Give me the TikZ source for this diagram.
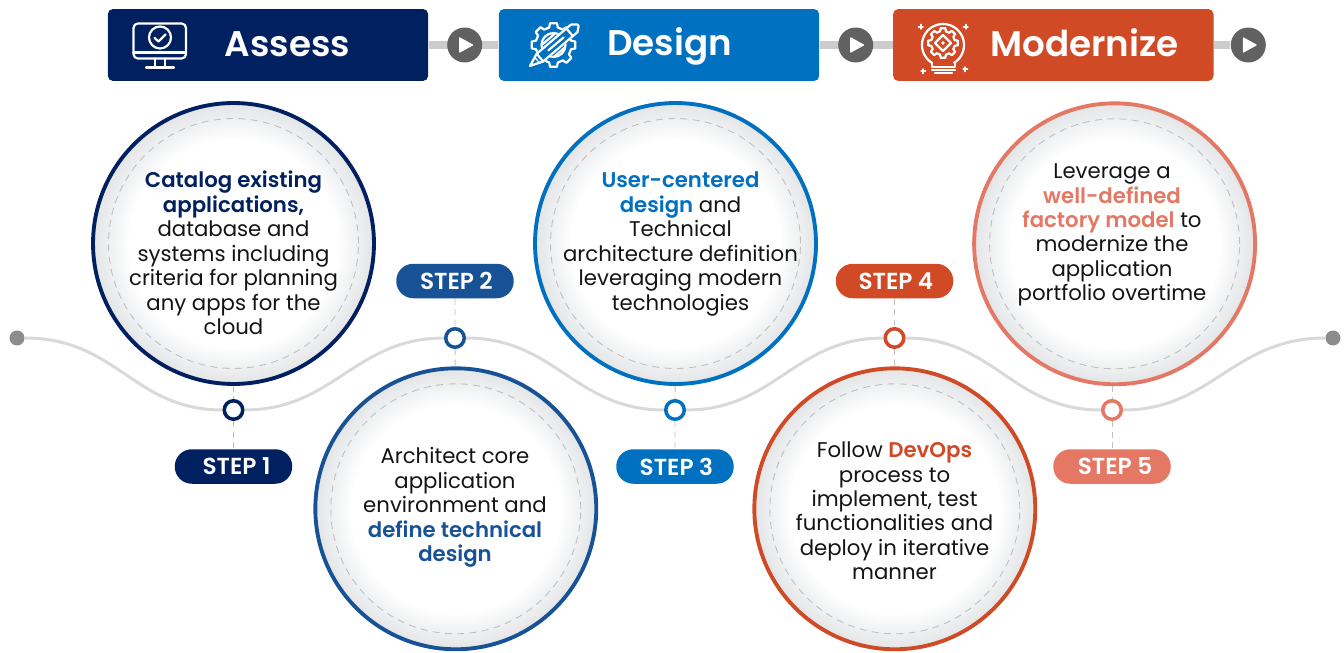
\documentclass[tikz,border=0pt]{standalone}
\usepackage{fontspec}
\setmainfont{Poppins}[BoldFont={Poppins SemiBold}]
\usetikzlibrary{backgrounds}

\definecolor{navy}{HTML}{002060}
\definecolor{midblue}{HTML}{0070C0}
\definecolor{steelblue}{HTML}{175296}
\definecolor{rust}{HTML}{D04A25}
\definecolor{salmon}{HTML}{E57865}
\definecolor{wavegray}{HTML}{D9D9D9}
\definecolor{ringgray}{HTML}{E2E4E6}

\pgfdeclareradialshading{discfill}{\pgfpoint{0bp}{0bp}}{color(0bp)=(white); color(18.5bp)=(white); color(25bp)=(ringgray); color(50bp)=(ringgray)}

\newcommand{\hi}[2]{\textcolor{#1}{\textbf{#2}}}
\newcommand{\gearicon}[4]{%
  \foreach \k in {0,...,7}{
    \pgfmathsetmacro{\a}{\k*45}
    \draw[iconline] ([shift={(#1,#2)}]\a-14:#4) -- ([shift={(#1,#2)}]\a-9:#3) -- ([shift={(#1,#2)}]\a+9:#3) -- ([shift={(#1,#2)}]\a+14:#4) -- ([shift={(#1,#2)}]\a+31:#4);
  }}

\begin{document}
\begin{tikzpicture}[x=0.02cm,y=-0.02cm]
        \tikzstyle{headbox} = [rectangle,rounded corners=3pt,minimum width=6.41cm,minimum height=1.44cm,inner sep=0pt]
        \tikzstyle{headtxt} = [text=white,font=\bfseries\fontsize{20.3}{24}\selectfont,inner sep=0pt]
        \tikzstyle{playbtn} = [circle,fill=black!62,minimum size=0.7cm,inner sep=0pt,path picture={\fill[white,rounded corners=0.4pt] (path picture bounding box.center) ++(-5.5,-8) -- ++(0,16) -- ++(14.5,-8) -- cycle;}]
        \tikzstyle{disc} = [circle,line width=2.2pt,minimum size=5.62cm,inner sep=0pt,shade,shading=discfill]
        \tikzstyle{ring} = [circle,draw=black!25,line width=0.5pt,dash pattern=on 4pt off 3pt,minimum size=5cm,inner sep=0pt]
        \tikzstyle{body} = [align=center,text=black!92,font=\fontsize{12.1}{13.9}\selectfont,inner sep=0pt]
        \tikzstyle{dot} = [circle,fill=white,line width=2pt,minimum size=0.37cm,inner sep=0pt]
        \tikzstyle{pill} = [rectangle,rounded corners=9.7pt,text=white,font=\bfseries\fontsize{13.2}{15}\selectfont,minimum width=2.35cm,minimum height=0.69cm,inner sep=0pt]
        \tikzstyle{enddot} = [circle,fill=black!45,minimum size=0.3cm,inner sep=0pt]
        \tikzstyle{wave} = [draw=wavegray,line width=1.7pt]
        \tikzstyle{bar} = [draw=black!20,line width=5pt]
        \tikzstyle{guide} = [draw=black!25,line width=0.5pt,dash pattern=on 3.5pt off 2.5pt]
        \tikzstyle{iconline} = [draw=white,line width=1.25pt,line join=round,line cap=round]

        \useasboundingbox (0,0) rectangle (1344,652);

        % header row
        \node[headbox,fill=navy] (assess) at (268,45){};
        \node[headbox,fill=midblue] (design) at (659,45){};
        \node[headbox,fill=rust] (modernize) at (1053.3,45){};
        \node[headtxt] (assessT) at (287.5,44){Assess};
        \node[headtxt] (designT) at (669.7,46.5){Design};
        \node[headtxt] (modernizeT) at (1084.5,43){Modernize};
        \node[playbtn] (go1) at (464.7,45){};
        \node[playbtn] (go2) at (855.7,45){};
        \node[playbtn] (go3) at (1248.3,45){};

        % discs
        \node[disc,draw=navy] (disc1) at (233.5,243.5){};
        \node[disc,draw=steelblue] (disc2) at (455.8,508.8){};
        \node[disc,draw=midblue] (disc3) at (675.5,243.5){};
        \node[disc,draw=rust] (disc4) at (894.8,508.8){};
        \node[disc,draw=salmon] (disc5) at (1114.6,243.8){};
        \node[ring] (ring1) at (disc1){};
        \node[ring] (ring2) at (disc2){};
        \node[ring] (ring3) at (disc3){};
        \node[ring] (ring4) at (disc4){};
        \node[ring] (ring5) at (disc5){};

        \node[body] (txt1) at (233.5,253){\hi{navy}{Catalog existing}\\\hi{navy}{applications,}\\database and\\systems including\\criteria for planning\\any apps for the\\cloud};
        \node[body] (txt2) at (455,507.5){Architect core\\application\\environment and\\\hi{steelblue}{define technical}\\\hi{steelblue}{design}};
        \node[body] (txt3) at (680.5,244){\hi{midblue}{User-centered}\\\hi{midblue}{design} and\\Technical\\architecture definition\\leveraging modern\\technologies};
        \node[body] (txt4) at (894.5,511){Follow \hi{rust}{DevOps}\\process to\\implement, test\\functionalities and\\deploy in iterative\\manner};
        \node[body] (txt5) at (1112,235){Leverage a\\\hi{salmon}{well-defined}\\\hi{salmon}{factory model} to\\modernize the\\application\\portfolio overtime};

        % timeline
        \node[enddot] (start) at (17,338){};
        \node[enddot] (end) at (1333,338){};
        \node[dot,draw=navy] (dot1) at (233.5,410){};
        \node[dot,draw=steelblue] (dot2) at (455,338){};
        \node[dot,draw=midblue] (dot3) at (675,410){};
        \node[dot,draw=rust] (dot4) at (894.5,338){};
        \node[dot,draw=salmon] (dot5) at (1112,410){};

        \node[pill,fill=navy] (pill1) at (233.5,466.5){\hspace*{3.4pt}STEP 1};
        \node[pill,fill=steelblue] (pill2) at (455,281){\hspace*{1.6pt}STEP 2};
        \node[pill,fill=midblue] (pill3) at (675,466.5){\hspace*{1.6pt}STEP 3};
        \node[pill,fill=rust] (pill4) at (894.5,281){\hspace*{1.6pt}STEP 4};
        \node[pill,fill=salmon] (pill5) at (1112,466.5){\hspace*{3.4pt}STEP 5};

        \begin{scope}[on background layer]
            \draw[bar] (assess) -- (design) (design) -- (modernize) (modernize) -- (go3);
            \draw[wave] (start) .. controls +(100,0) and +(-100,0) .. (dot1);
            \draw[wave] (dot1) .. controls +(100,0) and +(-100,0) .. (dot2);
            \draw[wave] (dot2) .. controls +(100,0) and +(-100,0) .. (dot3);
            \draw[wave] (dot3) .. controls +(100,0) and +(-100,0) .. (dot4);
            \draw[wave] (dot4) .. controls +(100,0) and +(-100,0) .. (dot5);
            \draw[wave] (dot5) .. controls +(100,0) and +(-100,0) .. (end);
            \draw[guide] (disc1) -- (dot1) -- (pill1);
            \draw[guide] (pill2) -- (dot2) -- (disc2);
            \draw[guide] (disc3) -- (dot3) -- (pill3);
            \draw[guide] (pill4) -- (dot4) -- (disc4);
            \draw[guide] (dot5 |- disc5.south) -- (dot5) -- (pill5);
        \end{scope}

        % monitor icon
        \draw[iconline,rounded corners=2.5pt] (133.5,23.5) rectangle (186,58.5);
        \draw[iconline] (133.5,52.5) -- (186,52.5) (155,58.5) -- (155,67.5) (165,58.5) -- (165,67.5) (146,67.5) -- (174,67.5);
        \draw[iconline] (160,37.5) circle (11);
        \draw[iconline] (154.5,38) -- (158.5,41.5) -- (165.5,34.5);

        % pencil and gear icon
        \gearicon{553.5}{45}{22}{18}
        \draw[iconline] (553.5,45) circle (12);
        \begin{scope}[shift={(530,66)},rotate=40.4]
            \fill[midblue] (10,-6) rectangle (62,6);
            \draw[iconline] (0,0) -- (13,-5) -- (58,-5) -- (63,-1) -- (63,1) -- (58,5) -- (13,5) -- cycle;
            \draw[iconline] (13,-5) -- (13,5) (52,-5) -- (52,5);
            \draw[iconline] (24,0) -- (44,0) (24,-8.5) -- (39,-8.5) (24,8.5) -- (39,8.5);
        \end{scope}

        % bulb icon
        \draw[iconline] plot[domain=122:418,samples=45] ({943+21*cos(\x)},{45+21*sin(\x)});
        \draw[iconline] (932,63) -- (932,67) -- (955,67) -- (955,63) (932,70) -- (955,70) (935,73) -- (952,73);
        \gearicon{943}{43}{15}{12}
        \draw[iconline] (943,35) -- (951,43) -- (943,51) -- (935,43) -- cycle;
        \fill[white] (943,43) circle (1.8);
        \draw[iconline] (920.7,24.7) -- (920.7,28.7) (918.7,26.7) -- (922.7,26.7);
        \draw[iconline] (965.7,24.7) -- (965.7,28.7) (963.7,26.7) -- (967.7,26.7);
        \draw[iconline] (923.3,69.3) -- (923.3,73.3) (921.3,71.3) -- (925.3,71.3);
        \draw[iconline] (965.3,67.3) -- (965.3,71.3) (963.3,69.3) -- (967.3,69.3);

    \end{tikzpicture}
\end{document}
